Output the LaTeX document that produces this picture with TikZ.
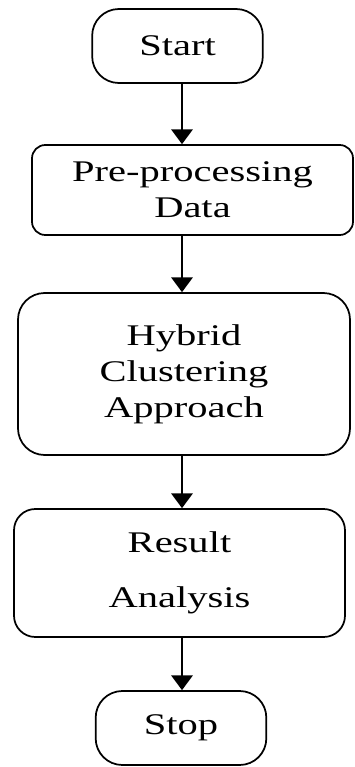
\documentclass[tikz,border=0pt]{standalone}
\usepackage{fontspec}
\usepackage{tikz}
\usetikzlibrary{arrows.meta,positioning}
\newfontfamily\boxfont[FakeStretch=1.35]{Liberation Serif}
\tikzset{
        block/.style = {draw, rectangle, line width=1.3pt, align=center,
            font=\boxfont\fontsize{22.5}{27}\selectfont},
        term/.style = {block, rounded corners=20pt,
            minimum width=128pt, minimum height=55.5pt},
        arrow/.style={draw, line width=1.3pt,
            -{Triangle[length=11pt,width=16pt]}},
    }

\begin{document}
\begin{tikzpicture}[x=0.75pt,y=0.75pt,yscale=-1,xscale=1]
\useasboundingbox (0,0) rectangle (354,767);

% Terminal Nodes
\node[term] (start) at (177.5,46) {Start};
\node[term] (stop) at (181,728) {Stop};
% Process Nodes
\node[block, rounded corners=10pt, minimum width=240.75pt, minimum height=67.5pt]
    (pre) at (192.5,190) {Pre-processing\\Data};
\node[block, rounded corners=20pt, minimum width=249pt, minimum height=121.5pt]
    (hybrid) at (184,374) {Hybrid\\Clustering\\Approach};
\node[block, rounded corners=16pt, minimum width=248.25pt, minimum height=96pt]
    (result) at (179.5,573) {Result\\[14pt]Analysis};

% Straight Lines
\coordinate (axis) at (182,0);
\draw[arrow] (start.south -| axis) -- (pre.north -| axis);
\draw[arrow] (pre.south -| axis) -- (hybrid.north -| axis);
\draw[arrow] (hybrid.south -| axis) -- (result.north -| axis);
\draw[arrow] (result.south -| axis) -- (stop.north -| axis);

\end{tikzpicture}
\end{document}
